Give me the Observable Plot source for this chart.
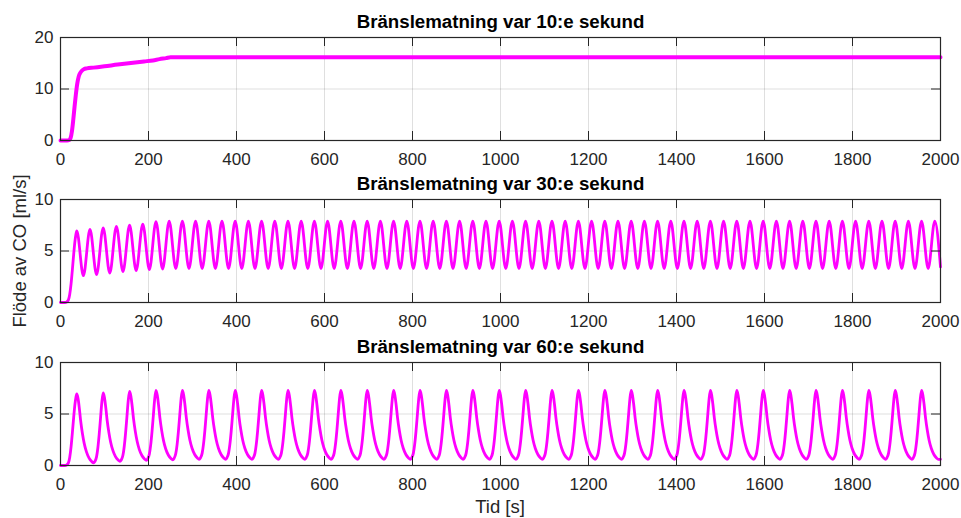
<!DOCTYPE html>
<html>
<head>
<meta charset="utf-8">
<script src="https://cdn.jsdelivr.net/npm/d3@7"></script>
<script src="https://cdn.jsdelivr.net/npm/@observablehq/plot@0.6"></script>
<style>
  html, body { margin: 0; padding: 0; background: #fff; }
  #wrap { position: relative; width: 961px; height: 518px; overflow: hidden; background: #fff;
          font-family: "Liberation Sans", Arial, sans-serif; color: #262626; }
  #wrap svg { position: absolute; left: 0; background: transparent; }
  .lbl { position: absolute; white-space: nowrap; font-size: 18.5px; color: #262626; }
</style>
</head>
<body>
<div id="wrap"></div>
<script>
// ---------- tick labels ----------
const xTicks = [0, 200, 400, 600, 800, 1000, 1200, 1400, 1600, 1800, 2000];
const yTicks1 = [0, 10, 20];
const yTicks2 = [0, 5, 10];
const yTicks3 = [0, 5, 10];

// ---------- titles / labels ----------
const titles = ["Bränslematning var 10:e sekund", "Bränslematning var 30:e sekund", "Bränslematning var 60:e sekund"];
const yLabel = "Flöde av CO [ml/s]";
const xLabel = "Tid [s]";

// ---------- panel 1: feed every 10 s ----------
const t1 = [0, 15, 20, 23, 26, 29, 32, 35, 38, 41, 44, 48, 53, 60, 75, 100, 130, 160, 190, 210, 225, 240, 250, 2000];
const v1 = [0, 0, 0.1, 0.5, 1.8, 4.0, 6.6, 9.0, 11.0, 12.3, 13.0, 13.5, 13.85, 14.0, 14.15, 14.4, 14.75, 15.05, 15.35, 15.55, 15.8, 16.0, 16.15, 16.15];

// ---------- common start-up of panels 2 and 3 ----------
const startT = [0, 10, 14, 18, 21, 24, 27, 30, 33, 35];
const startV = [0, 0, 0.05, 0.25, 0.8, 1.8, 3.2, 4.7, 6.0, 6.6];

// ---------- panel 2: feed every 30 s ----------
const peakT2 = [37, 67, 97, 127, 157, 187, 217, 247, 277, 307, 337, 367, 397, 427, 457, 487, 517, 547, 577, 607,
  637, 667, 697, 727, 757, 787, 817, 847, 877, 907, 937, 967, 997, 1027, 1057, 1087, 1117, 1147, 1177, 1207,
  1237, 1267, 1297, 1327, 1357, 1387, 1417, 1447, 1477, 1507, 1537, 1567, 1597, 1627, 1657, 1687, 1717, 1747,
  1777, 1807, 1837, 1867, 1897, 1927, 1957, 1987];
const peakV2 = [6.95, 7.1, 7.25, 7.4, 7.5, 7.6, 7.85, 7.9, 7.9, 7.9,
  7.9, 7.9, 7.9, 7.9, 7.9, 7.9, 7.9, 7.9, 7.9, 7.9,
  7.9, 7.9, 7.9, 7.9, 7.9, 7.9, 7.9, 7.9, 7.9, 7.9,
  7.9, 7.9, 7.9, 7.9, 7.9, 7.9, 7.9, 7.9, 7.9, 7.9,
  7.9, 7.9, 7.9, 7.9, 7.9, 7.9, 7.9, 7.9, 7.9, 7.9,
  7.9, 7.9, 7.9, 7.9, 7.9, 7.9, 7.9, 7.9, 7.9, 7.9,
  7.9, 7.9, 7.9, 7.9, 7.9, 7.9];
const troughT2 = [52, 82, 112, 142, 172, 202, 232, 262, 292, 322, 352, 382, 412, 442, 472, 502, 532, 562, 592, 622,
  652, 682, 712, 742, 772, 802, 832, 862, 892, 922, 952, 982, 1012, 1042, 1072, 1102, 1132, 1162, 1192, 1222,
  1252, 1282, 1312, 1342, 1372, 1402, 1432, 1462, 1492, 1522, 1552, 1582, 1612, 1642, 1672, 1702, 1732, 1762,
  1792, 1822, 1852, 1882, 1912, 1942, 1972];
const troughV2 = [2.6, 2.7, 2.85, 3.0, 3.1, 3.2, 3.25, 3.3, 3.3, 3.3,
  3.3, 3.3, 3.3, 3.3, 3.3, 3.3, 3.3, 3.3, 3.3, 3.3,
  3.3, 3.3, 3.3, 3.3, 3.3, 3.3, 3.3, 3.3, 3.3, 3.3,
  3.3, 3.3, 3.3, 3.3, 3.3, 3.3, 3.3, 3.3, 3.3, 3.3,
  3.3, 3.3, 3.3, 3.3, 3.3, 3.3, 3.3, 3.3, 3.3, 3.3,
  3.3, 3.3, 3.3, 3.3, 3.3, 3.3, 3.3, 3.3, 3.3, 3.3,
  3.3, 3.3, 3.3, 3.3, 3.3];
const endT2 = 2000, endV2 = 3.45;

// ---------- panel 3: feed every 60 s ----------
const peakT3 = [37, 97, 157, 217, 277, 337, 397, 457, 517, 577, 637, 697, 757, 817, 877, 937, 997, 1057, 1117,
  1177, 1237, 1297, 1357, 1417, 1477, 1537, 1597, 1657, 1717, 1777, 1837, 1897, 1957];
const peakV3 = [6.95, 7.05, 7.2, 7.3, 7.3, 7.3, 7.3, 7.3, 7.3, 7.3,
  7.3, 7.3, 7.3, 7.3, 7.3, 7.3, 7.3, 7.3, 7.3, 7.3,
  7.3, 7.3, 7.3, 7.3, 7.3, 7.3, 7.3, 7.3, 7.3, 7.3,
  7.3, 7.3, 7.3];
const troughV3 = [0.25, 0.4, 0.5, 0.55, 0.6, 0.6, 0.6, 0.6, 0.6, 0.6,
  0.6, 0.6, 0.6, 0.6, 0.6, 0.6, 0.6, 0.6, 0.6, 0.6,
  0.6, 0.6, 0.6, 0.6, 0.6, 0.6, 0.6, 0.6, 0.6, 0.6,
  0.6, 0.6, 0.6];
// shape of one 60 s pulse (seconds from peak, fraction of peak height above trough)
const decayOff = [0, 3, 6, 9, 13, 17, 22, 28, 34, 38];
const decayFrac = [1, 0.93, 0.78, 0.6, 0.42, 0.28, 0.16, 0.07, 0.02, 0];
const riseOff = [-19, -15, -12, -9, -6, -3];
const riseFrac = [0.02, 0.09, 0.22, 0.41, 0.64, 0.87];
const endT3 = 2000, endV3 = 0.6;

// ---------- build tables ----------
const data1 = t1.map((t, i) => ({t, v: v1[i]}));

const data2 = startT.map((t, i) => ({t, v: startV[i]}));
peakT2.forEach((tp, i) => {
  data2.push({t: tp, v: peakV2[i]});
  if (i < troughT2.length) data2.push({t: troughT2[i], v: troughV2[i]});
});
data2.push({t: endT2, v: endV2});

const data3 = startT.map((t, i) => ({t, v: startV[i]}));
peakT3.forEach((tp, i) => {
  const base = troughV3[i];
  const amp = peakV3[i] - base;
  decayOff.forEach((o, j) => { if (tp + o <= 2000) data3.push({t: tp + o, v: base + amp * decayFrac[j]}); });
  if (i + 1 < peakT3.length) {
    const tn = peakT3[i + 1];
    const ampN = peakV3[i + 1] - base;
    riseOff.forEach((o, j) => data3.push({t: tn + o, v: base + ampN * riseFrac[j]}));
  }
});
if (data3[data3.length - 1].t < endT3) data3.push({t: endT3, v: endV3});

// ---------- drawing ----------
const wrap = document.getElementById("wrap");
const ink = "#262626";
const plotH = 103, mTop = 30, mBot = 30, mLeft = 60, mRight = 21;

function panel(data, yDomain, yTicks, title, top, sw) {
  const innerW = 961 - mLeft - mRight;
  const svg = Plot.plot({
    width: 961,
    height: mTop + plotH + mBot,
    marginTop: mTop, marginBottom: mBot, marginLeft: mLeft, marginRight: mRight,
    style: {fontFamily: "'Liberation Sans', Arial, sans-serif", fontSize: "17px", color: ink, background: "transparent", overflow: "visible"},
    x: {domain: [0, 2000]},
    y: {domain: yDomain},
    marks: [
      Plot.gridX(xTicks, {stroke: ink, strokeOpacity: 0.15}),
      Plot.gridY(yTicks, {stroke: ink, strokeOpacity: 0.15}),
      Plot.line(data, {x: "t", y: "v", stroke: "#ff00ff", strokeWidth: sw, curve: "monotone-x"}),
      Plot.tickX(xTicks, {x: d => d, stroke: ink, insetTop: plotH - 9}),
      Plot.tickX(xTicks, {x: d => d, stroke: ink, insetBottom: plotH - 9}),
      Plot.tickY(yTicks, {y: d => d, stroke: ink, insetLeft: innerW - 9}),
      Plot.tickY(yTicks, {y: d => d, stroke: ink, insetRight: innerW - 9}),
      Plot.frame({stroke: ink, strokeWidth: 1.2}),
      Plot.axisX(xTicks, {tickSize: 0, tickPadding: 12, tickFormat: d => String(d), label: null, fontSize: 17}),
      Plot.axisY(yTicks, {tickSize: 0, tickPadding: 7, tickFormat: d => String(d), label: null, fontSize: 17}),
      Plot.text([title], {frameAnchor: "top", lineAnchor: "middle", dy: -15, text: d => d, fontWeight: "bold", fontSize: 18.7, fill: "#000"})
    ]
  });
  svg.style.top = top + "px";
  wrap.appendChild(svg);
}

panel(data1, [0, 20], yTicks1, titles[0], 37 - mTop, 4);
panel(data2, [0, 10], yTicks2, titles[1], 199 - mTop, 2.8);
panel(data3, [0, 10], yTicks3, titles[2], 362 - mTop, 2.8);

const yl = document.createElement("div");
yl.className = "lbl";
yl.textContent = yLabel;
yl.style.left = "20px"; yl.style.top = "251px";
yl.style.transform = "translate(-50%, -50%) rotate(-90deg)";
wrap.appendChild(yl);

const xl = document.createElement("div");
xl.className = "lbl";
xl.textContent = xLabel;
xl.style.left = "500px"; xl.style.top = "507px";
xl.style.transform = "translate(-50%, -50%)";
wrap.appendChild(xl);
</script>
</body>
</html>
